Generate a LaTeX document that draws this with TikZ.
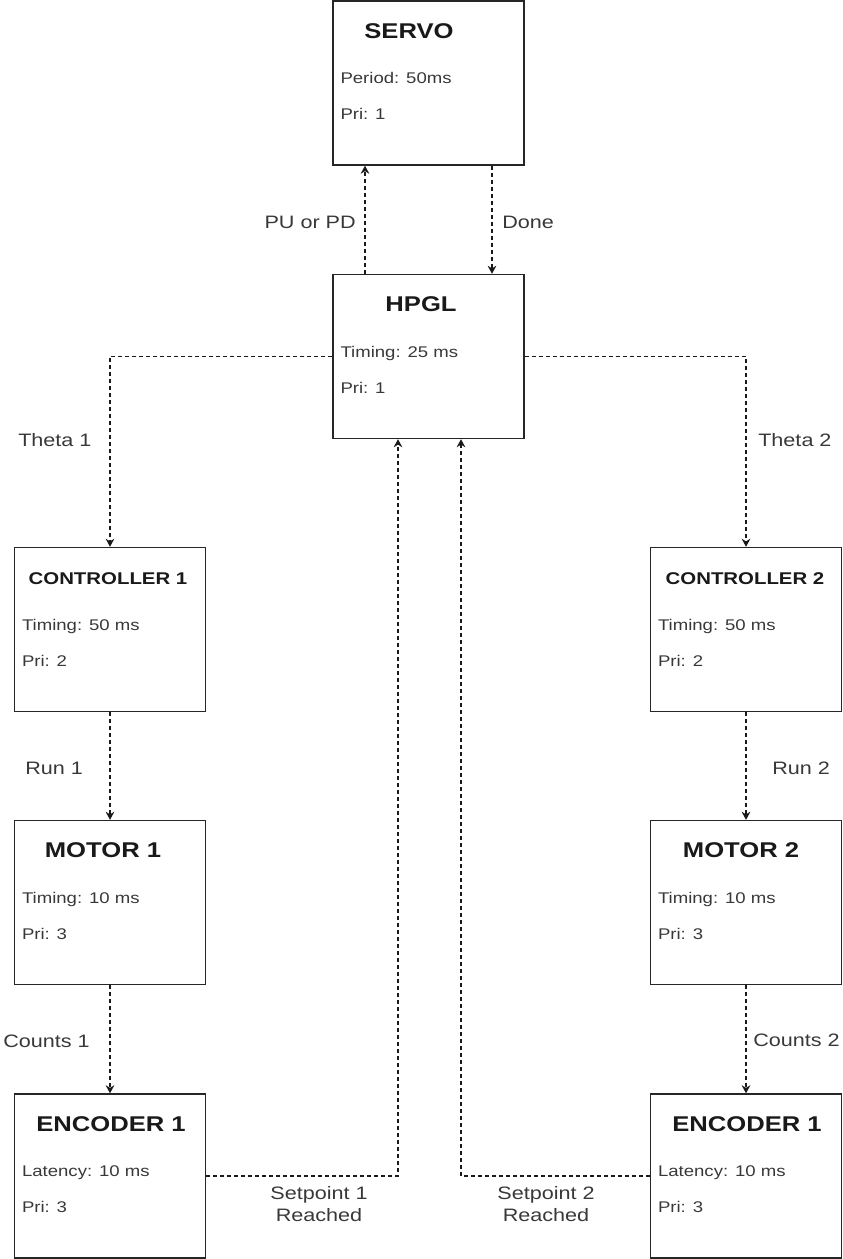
\documentclass[tikz,border=0pt]{standalone}
\usepackage{fontspec}
\setmainfont{Liberation Sans}[FakeStretch=1.2]
\usetikzlibrary{arrows.meta,calc}

\begin{document}
\begin{tikzpicture}[x=0.75pt,y=-0.75pt,
  box/.style={draw=black!85, line width=1.1pt, minimum width=143.25pt, minimum height=123pt, inner sep=0pt},
  title/.style={anchor=base, inner sep=0pt, text=black!90, font=\fontsize{16}{19}\selectfont\bfseries},
  smalltitle/.style={title, font=\fontsize{12.75}{15}\selectfont\bfseries},
  txt/.style={anchor=base west, inner sep=0pt, text=black!78, font=\fontsize{11.6}{14}\selectfont},
  lbl/.style={inner sep=0pt, text=black!78, font=\fontsize{13.5}{16}\selectfont},
  flow/.style={draw=black!90, line width=0.9pt, dash pattern=on 3pt off 2.25pt, -{Stealth[length=6pt,width=6.5pt]}}]

 % frame
 \useasboundingbox (0,0) rectangle (842,1259);

 % boxes
 \node[box] (servo)  at (428.5,83)   {};
 \node[box] (hpgl)   at (428.5,356.5) {};
 \node[box] (ctrl1)  at (110,629.5)  {};
 \node[box] (motor1) at (110,902.5)  {};
 \node[box] (enc1)   at (110,1176)   {};
 \node[box] (ctrl2)  at (746,629.5)  {};
 \node[box] (motor2) at (746,902.5)  {};
 \node[box] (enc2)   at (746,1176)   {};

 % box texts
 \node[title] (servo-t) at ($(servo.north)+(-19.5,38)$) {SERVO};
 \node[txt] (servo-a) at ($(servo.west)+(8,0.5)$) {Period: 50ms};
 \node[txt] (servo-b) at ($(servo.west)+(8,36.5)$) {Pri: 1};

 \node[title] (hpgl-t) at ($(hpgl.north)+(-7.5,38)$) {HPGL};
 \node[txt] (hpgl-a) at ($(hpgl.west)+(8,0.5)$) {Timing: 25 ms};
 \node[txt] (hpgl-b) at ($(hpgl.west)+(8,36.5)$) {Pri: 1};

 \node[smalltitle] (ctrl1-t) at ($(ctrl1.north)+(-2,38)$) {CONTROLLER 1};
 \node[txt] (ctrl1-a) at ($(ctrl1.west)+(8,0.5)$) {Timing: 50 ms};
 \node[txt] (ctrl1-b) at ($(ctrl1.west)+(8,36.5)$) {Pri: 2};

 \node[smalltitle] (ctrl2-t) at ($(ctrl2.north)+(-1,38)$) {CONTROLLER 2};
 \node[txt] (ctrl2-a) at ($(ctrl2.west)+(8,0.5)$) {Timing: 50 ms};
 \node[txt] (ctrl2-b) at ($(ctrl2.west)+(8,36.5)$) {Pri: 2};

 \node[title] (motor1-t) at ($(motor1.north)+(-7,38)$) {MOTOR 1};
 \node[txt] (motor1-a) at ($(motor1.west)+(8,0.5)$) {Timing: 10 ms};
 \node[txt] (motor1-b) at ($(motor1.west)+(8,36.5)$) {Pri: 3};

 \node[title] (motor2-t) at ($(motor2.north)+(-5,38)$) {MOTOR 2};
 \node[txt] (motor2-a) at ($(motor2.west)+(8,0.5)$) {Timing: 10 ms};
 \node[txt] (motor2-b) at ($(motor2.west)+(8,36.5)$) {Pri: 3};

 \node[title] (enc1-t) at ($(enc1.north)+(1,38.5)$) {ENCODER 1};
 \node[txt] (enc1-a) at ($(enc1.west)+(8,0.5)$) {Latency: 10 ms};
 \node[txt] (enc1-b) at ($(enc1.west)+(8,36.5)$) {Pri: 3};

 \node[title] (enc2-t) at ($(enc2.north)+(1,38.5)$) {ENCODER 1};
 \node[txt] (enc2-a) at ($(enc2.west)+(8,0.5)$) {Latency: 10 ms};
 \node[txt] (enc2-b) at ($(enc2.west)+(8,36.5)$) {Pri: 3};

 % arrows
 \draw[flow] ($(hpgl.north)+(-63.5,0)$) -- ($(servo.south)+(-63.5,0)$);
 \draw[flow] ($(servo.south)+(63.5,0)$) -- ($(hpgl.north)+(63.5,0)$);
 \draw[flow] (hpgl.west) -| (ctrl1.north);
 \draw[flow] (hpgl.east) -| (ctrl2.north);
 \draw[flow] (ctrl1.south) -- (motor1.north);
 \draw[flow] (ctrl2.south) -- (motor2.north);
 \draw[flow] (motor1.south) -- (enc1.north);
 \draw[flow] (motor2.south) -- (enc2.north);
 \draw[flow] (enc1.east) -| ($(hpgl.south)+(-30.5,0)$);
 \draw[flow] (enc2.west) -| ($(hpgl.south)+(32.5,0)$);

 % labels
 \node[lbl, anchor=base east] (l-pu) at (356,228.5) {PU or PD};
 \node[lbl, anchor=base west] (l-done) at (502,228.5) {Done};
 \node[lbl, anchor=base west] (l-theta1) at (18,446.5) {Theta 1};
 \node[lbl, anchor=base west] (l-theta2) at (758,446.5) {Theta 2};
 \node[lbl, anchor=base west] (l-run1) at (25,774) {Run 1};
 \node[lbl, anchor=base west] (l-run2) at (772,774.5) {Run 2};
 \node[lbl, anchor=base west] (l-counts1) at (3,1047.5) {Counts 1};
 \node[lbl, anchor=base east] (l-counts2) at (840,1046.5) {Counts 2};
 \node[lbl, anchor=base] (l-set1) at (319,1199.5) {Setpoint 1};
 \node[lbl, anchor=base] (l-reach1) at (319,1221.5) {Reached};
 \node[lbl, anchor=base] (l-set2) at (546,1199.5) {Setpoint 2};
 \node[lbl, anchor=base] (l-reach2) at (546,1221.5) {Reached};
\end{tikzpicture}
\end{document}
